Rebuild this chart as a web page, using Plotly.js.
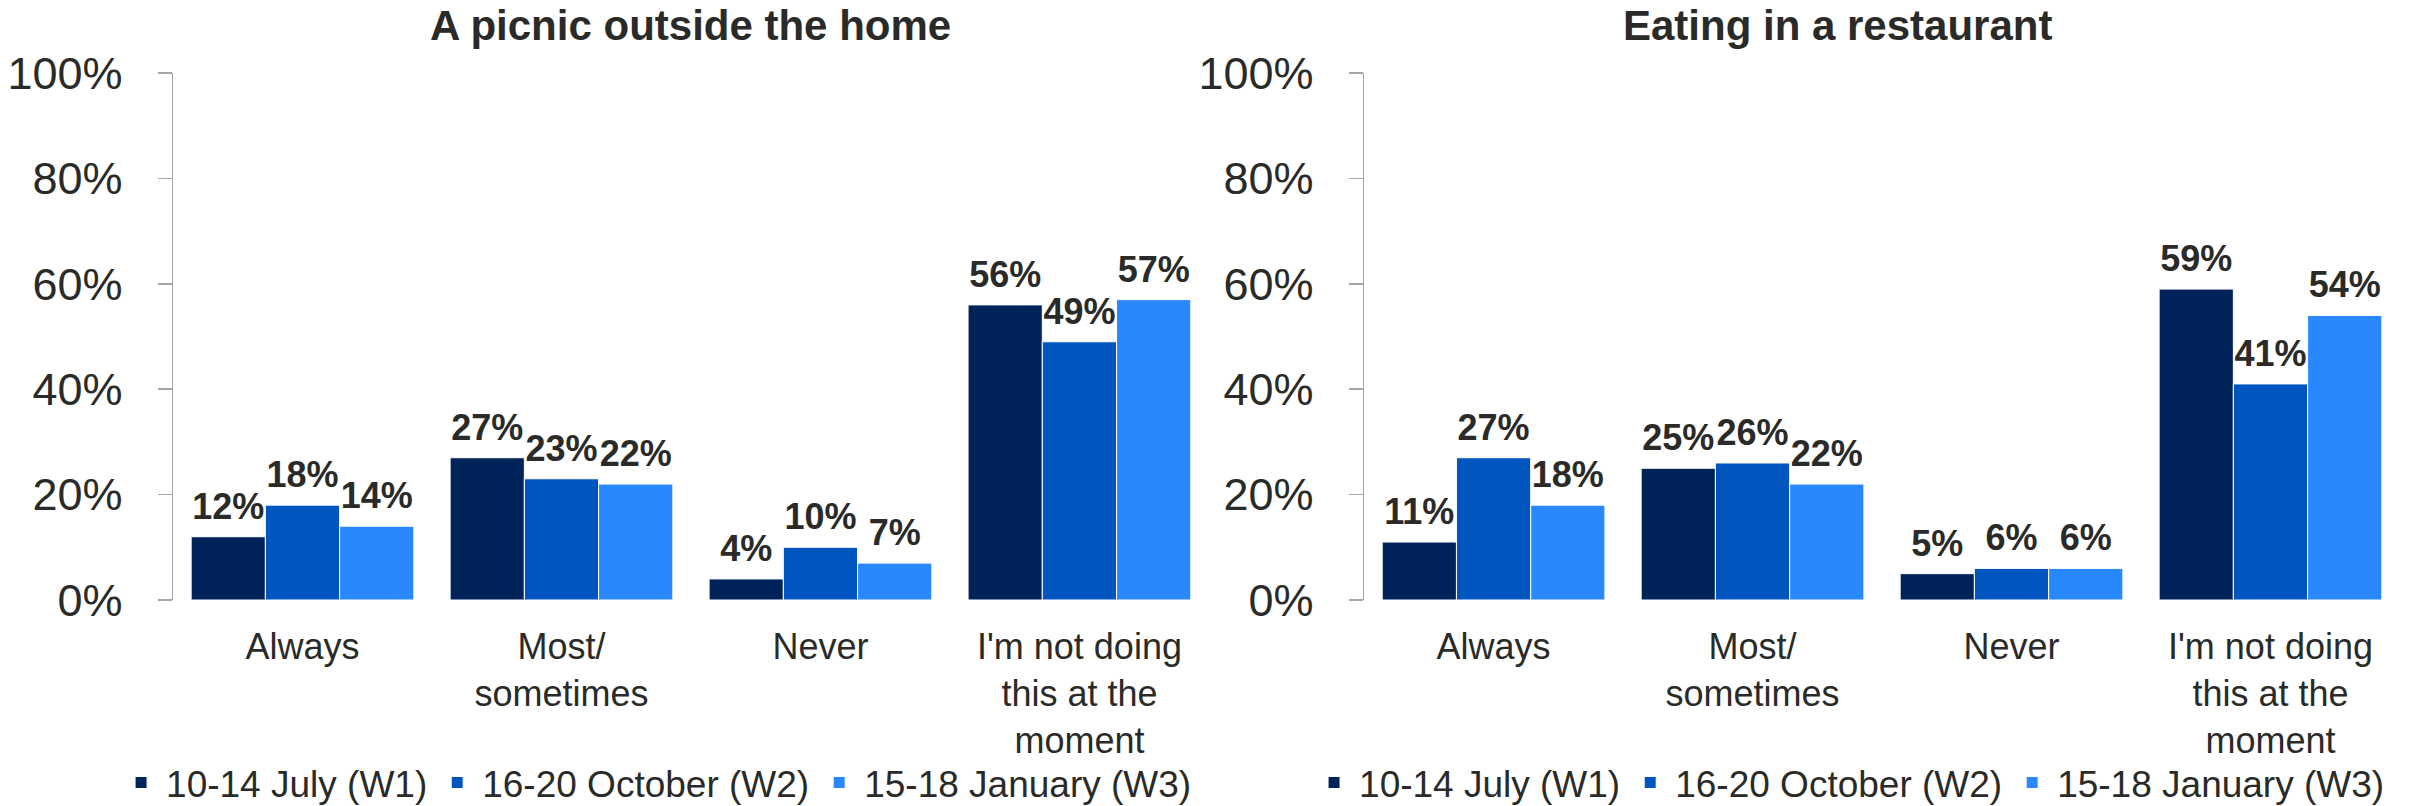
<!DOCTYPE html>
<html>
<head>
<meta charset="utf-8">
<script src="https://cdn.plot.ly/plotly-3.0.1.min.js"></script>
<style>
  html, body { margin: 0; padding: 0; background: #ffffff; }
  #chart { width: 2413px; height: 806px; }
</style>
</head>
<body>
<div id="chart"></div>
<script>
// ---- Data ----
const categories = ["Always", "Most/ sometimes", "Never", "I'm not doing this at the moment"];
const categoryLabels = ["Always", "Most/<br>sometimes", "Never", "I'm not doing<br>this at the<br>moment"];
const seriesNames = ["10-14 July (W1)", "16-20 October (W2)", "15-18 January (W3)"];

const picnicW1 = [0.12, 0.27, 0.04, 0.56];
const picnicW2 = [0.18, 0.23, 0.10, 0.49];
const picnicW3 = [0.14, 0.22, 0.07, 0.57];

const restaurantW1 = [0.11, 0.25, 0.05, 0.59];
const restaurantW2 = [0.27, 0.26, 0.06, 0.41];
const restaurantW3 = [0.18, 0.22, 0.06, 0.54];

const chartTitles = ["A picnic outside the home", "Eating in a restaurant"];
const yTickValues = [0, 0.2, 0.4, 0.6, 0.8, 1.0];

// ---- Styles ----
const colors = ["#00245a", "#0055bf", "#2a88ff"];
const FONT = "Liberation Sans, Arial, Helvetica, sans-serif";
const TXT = "#2a2a28";

function makeTrace(values, idx, xa, ya, legendId) {
  return {
    type: "bar",
    name: seriesNames[idx],
    x: categories,
    y: values,
    xaxis: xa,
    yaxis: ya,
    legend: legendId,
    marker: { color: colors[idx], line: { color: "#ffffff", width: 1 } },
    // small second line lifts the label a little further above the bar
    texttemplate: "<span style='font-size:36px'><b>%{y:.0%}</b></span><br>\u00a0",
    textposition: "outside",
    cliponaxis: false,
    constraintext: "none",
    textfont: { family: FONT, size: 10, color: TXT },
    hoverinfo: "skip"
  };
}

const traces = [
  makeTrace(picnicW1, 0, "x", "y", "legend"),
  makeTrace(picnicW2, 1, "x", "y", "legend"),
  makeTrace(picnicW3, 2, "x", "y", "legend"),
  makeTrace(restaurantW1, 0, "x2", "y2", "legend2"),
  makeTrace(restaurantW2, 1, "x2", "y2", "legend2"),
  makeTrace(restaurantW3, 2, "x2", "y2", "legend2")
];

function xAxis(domain, anchor) {
  return {
    domain: domain,
    anchor: anchor,
    type: "category",
    tickmode: "array",
    tickvals: categories,
    ticktext: categoryLabels,
    showline: false,
    showgrid: false,
    zeroline: false,
    ticks: "",
    ticklabelstandoff: 22,
    tickfont: { family: FONT, size: 36, color: TXT },
    fixedrange: true
  };
}
function yAxis(anchor) {
  return {
    domain: [0, 1],
    anchor: anchor,
    range: [0, 1],
    tickmode: "array",
    tickvals: yTickValues,
    tickformat: ".0%",
    showline: true,
    linecolor: "#a6a6a6",
    linewidth: 1.5,
    ticks: "outside",
    ticklen: 14,
    tickwidth: 1.5,
    tickcolor: "#a6a6a6",
    showgrid: false,
    zeroline: false,
    ticklabelstandoff: 26,
    tickfont: { family: FONT, size: 45, color: TXT },
    fixedrange: true
  };
}

const legendBase = {
  orientation: "h",
  xref: "container",
  yref: "paper",
  xanchor: "left",
  yanchor: "bottom",
  y: -0.406,
  itemwidth: 40,
  font: { family: FONT, size: 37, color: TXT },
  bgcolor: "rgba(0,0,0,0)",
  itemclick: false,
  itemdoubleclick: false
};

const layout = {
  width: 2413,
  height: 806,
  margin: { l: 0, r: 0, t: 73, b: 206, autoexpand: false },
  paper_bgcolor: "#ffffff",
  plot_bgcolor: "#ffffff",
  barmode: "group",
  bargap: 0.14,
  bargroupgap: 0,
  showlegend: true,
  font: { family: FONT, color: TXT },
  xaxis: xAxis([0.0717, 0.5010], "y"),
  yaxis: yAxis("x"),
  xaxis2: xAxis([0.5653, 0.9946], "y2"),
  yaxis2: yAxis("x2"),
  legend: Object.assign({}, legendBase, { x: 0.0481 }),
  legend2: Object.assign({}, legendBase, { x: 0.5425 }),
  annotations: [
    {
      text: "<b>" + chartTitles[0] + "</b>",
      xref: "x domain", yref: "paper",
      x: 0.5, y: 1.0892,
      xanchor: "center", yanchor: "middle",
      showarrow: false,
      font: { family: FONT, size: 42, color: TXT }
    },
    {
      text: "<b>" + chartTitles[1] + "</b>",
      xref: "x2 domain", yref: "paper",
      x: 0.4575, y: 1.0892,
      xanchor: "center", yanchor: "middle",
      showarrow: false,
      font: { family: FONT, size: 42, color: TXT }
    }
  ]
};

Plotly.newPlot("chart", traces, layout, { displayModeBar: false, staticPlot: true });
</script>
</body>
</html>
